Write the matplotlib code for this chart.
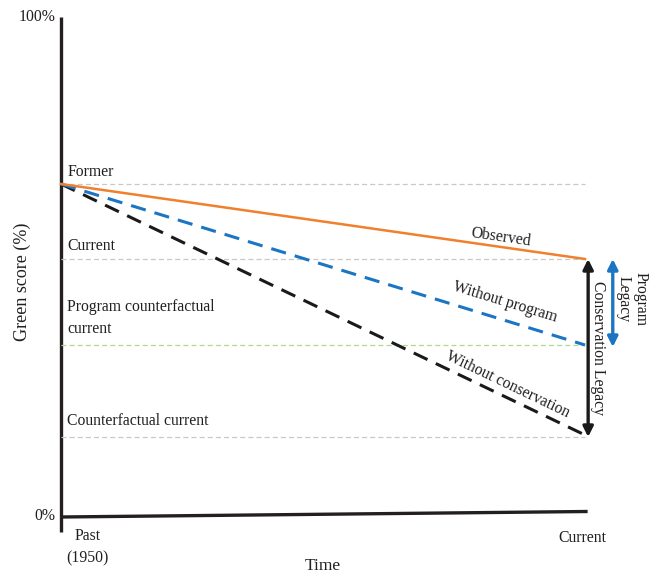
import matplotlib.pyplot as plt

plt.rcParams['font.family'] = ['Liberation Serif', 'DejaVu Serif']

# time axis: 0 = past (1950), 1 = current
time_pts = [0, 1]
observed = [66.6, 51.6]
without_program = [66.6, 34.4]
without_conservation = [66.6, 16.4]

# reference levels (green score %)
level_names = ['Former', 'Current', 'Program counterfactual\ncurrent', 'Counterfactual current']
level_values = [66.6, 51.6, 34.4, 16.0]
level_colors = ['#c8c8c8', '#c8c8c8', '#addb8e', '#c8c8c8']

txt = '#231f20'
fs = 11.3

fig = plt.figure(figsize=(6.5, 5.73), dpi=100)
ax = fig.add_axes([61 / 650, 56 / 573, 524 / 650, 500 / 573])
ax.set_xlim(0, 1)
ax.set_ylim(0, 100)
ax.axis('off')

# axes drawn by hand (bottom line is slightly tilted in the original)
ax.plot([0, 0], [-3, 100], color=txt, lw=2.4, clip_on=False, solid_capstyle='butt')
ax.plot([0, 1.005], [0, 1.1], color=txt, lw=2.4, clip_on=False, solid_capstyle='butt')

# reference levels
for v, c in zip(level_values, level_colors):
    ax.plot([0, 1], [v, v], color=c, lw=0.9, ls=(0, (4, 2.5)), clip_on=False)

label_y = [69.0, 54.2, 39.8, 19.2]
for name, y in zip(level_names, label_y):
    ax.text(0.012, y, name, fontsize=fs, color=txt, ha='left', va='center', linespacing=1.45)

# trajectories
ax.plot(time_pts, without_conservation, color='#1a1a1a', lw=2.2, ls=(0, (5, 3)), clip_on=False)
ax.plot(time_pts, without_program, color='#1b75c3', lw=2.2, ls=(0, (5, 3)), clip_on=False)
ax.plot(time_pts, observed, color='#f07f2e', lw=1.8, clip_on=False)

ax.text(0.84, 55.9, 'Observed', fontsize=fs, color=txt, rotation=-8.2,
        ha='center', va='center', rotation_mode='anchor')
ax.text(0.847, 43.0, 'Without program', fontsize=fs, color=txt, rotation=-17,
        ha='center', va='center', rotation_mode='anchor')
ax.text(0.853, 26.4, 'Without conservation', fontsize=fs, color=txt, rotation=-25.6,
        ha='center', va='center', rotation_mode='anchor')

# legacy arrows
ax.annotate('', xy=(1.006, level_values[3]), xytext=(1.006, level_values[1]),
            arrowprops=dict(arrowstyle='<|-|>', color='#1a1a1a', lw=2.4,
                            mutation_scale=15, shrinkA=0, shrinkB=0),
            annotation_clip=False)
ax.annotate('', xy=(1.053, level_values[2] - 0.4), xytext=(1.053, level_values[1]),
            arrowprops=dict(arrowstyle='<|-|>', color='#1b75c3', lw=2.4,
                            mutation_scale=15, shrinkA=0, shrinkB=0),
            annotation_clip=False)
ax.text(1.025, 33.8, 'Conservation Legacy', fontsize=fs, color=txt, rotation=-90,
        ha='center', va='center')
ax.text(1.09, 43.5, 'Program\nLegacy', fontsize=fs, color=txt, rotation=-90,
        ha='center', va='center', linespacing=1.1)

# tick-like labels
ax.text(-0.011, 100, '100%', fontsize=fs, color=txt, ha='right', va='center')
ax.text(-0.011, 0.2, '0%', fontsize=fs, color=txt, ha='right', va='center')
ax.text(0.05, -6.0, 'Past\n(1950)', fontsize=fs, color=txt, ha='center', va='center', linespacing=1.55)
ax.text(0.995, -4.2, 'Current', fontsize=fs, color=txt, ha='center', va='center')
ax.text(0.5, -9.7, 'Time', fontsize=12.5, color=txt, ha='center', va='center')
ax.text(-0.074, 47.0, 'Green score (%)', fontsize=13, color=txt, rotation=90,
        ha='center', va='center')

fig.savefig('out.png', dpi=100)
